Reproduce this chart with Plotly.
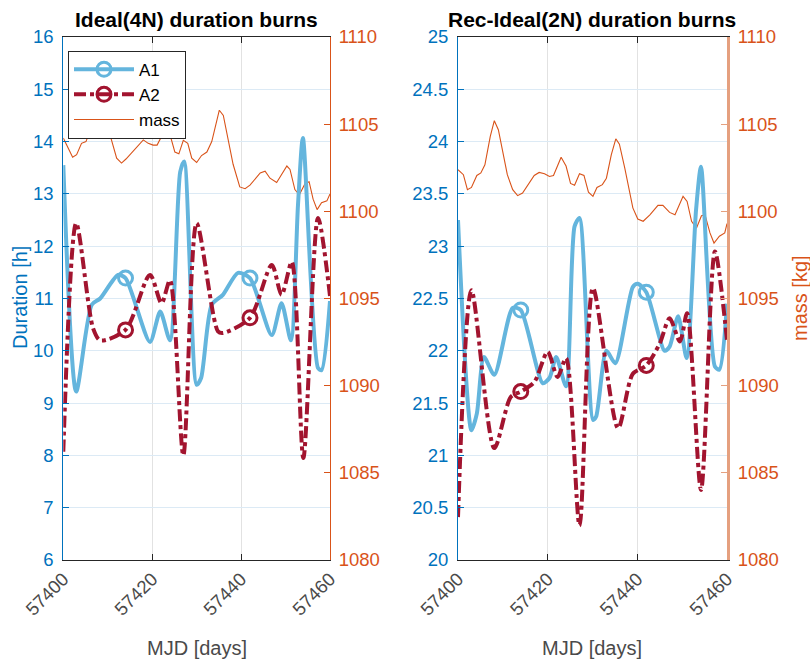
import plotly.graph_objects as go

# ---------------- data ----------------
# Left panel: Ideal(4N)
a1_left_mjd = [57400.0, 57402.9, 57406.4, 57408.3, 57412.3, 57414.0, 57419.5, 57421.8, 57424.0, 57426.3,
               57427.2, 57430.0, 57431.0, 57433.4, 57435.9, 57439.3, 57442.0, 57446.9, 57449.1, 57451.2,
               57452.8, 57453.9, 57457.3, 57458.1, 57460.0]
a1_left = [13.55, 9.22, 10.88, 11.0, 11.45, 11.39, 10.17, 10.75, 10.2, 13.42,
           13.62, 9.35, 9.48, 10.88, 11.07, 11.49, 11.39, 10.3, 10.91, 10.2,
           12.79, 14.07, 9.67, 9.63, 10.95]
a1_left_marks = [57414.0, 57442.0]

a2_left_mjd = [57400.0, 57402.9, 57406.7, 57408.3, 57414.0, 57419.5, 57422.1, 57424.0, 57427.0, 57430.0,
               57434.8, 57435.9, 57442.0, 57446.9, 57449.1, 57451.4, 57454.0, 57457.3, 57460.0]
a2_left = [8.07, 12.44, 10.43, 10.2, 10.4, 11.45, 10.91, 11.35, 8.0, 12.44,
           10.37, 10.34, 10.63, 11.64, 11.07, 11.7, 7.95, 12.54, 11.05]
a2_left_marks = [57414.0, 57442.0]

mass_left_mjd = [57400.0, 57402.1, 57403.0, 57404.1, 57405.1, 57406.0, 57408.0, 57410.1, 57410.5, 57412.0,
                 57413.1, 57414.1, 57418.0, 57419.1, 57420.2, 57421.1, 57422.9, 57424.0, 57425.1, 57426.0,
                 57427.0, 57428.0, 57428.9, 57430.0, 57431.1, 57432.3, 57433.4, 57435.1, 57436.0, 57437.1,
                 57438.2, 57439.7, 57440.9, 57442.0, 57444.3, 57445.4, 57446.5, 57448.0, 57449.1, 57450.3,
                 57451.0, 57452.1, 57453.1, 57454.4, 57455.3, 57456.2, 57457.1, 57458.1, 57459.3, 57460.0]
mass_left = [1104.2, 1103.1, 1103.25, 1103.9, 1104.0, 1104.6, 1105.3, 1104.8, 1104.4, 1103.05,
             1102.77, 1103.0, 1104.1, 1103.9, 1103.8, 1103.8, 1104.7, 1104.4, 1103.4, 1103.3,
             1104.07, 1103.9, 1103.05, 1102.8, 1103.2, 1103.4, 1104.0, 1105.8, 1105.5, 1104.2,
             1102.7, 1101.4, 1101.3, 1101.5, 1102.2, 1102.3, 1101.9, 1101.65, 1102.1, 1102.6,
             1102.4, 1101.25, 1100.95, 1101.6, 1101.7, 1100.7, 1100.1, 1100.5, 1100.6, 1101.0]

# Right panel: Rec-Ideal(2N)
a1_right_mjd = [57400.0, 57403.0, 57404.2, 57405.8, 57408.1, 57412.2, 57414.0, 57418.9, 57420.4, 57421.9,
                57424.1, 57426.0, 57427.1, 57430.1, 57430.8, 57433.1, 57435.1, 57439.0, 57440.1, 57442.0,
                57446.1, 57447.2, 57449.1, 57451.0, 57453.1, 57454.2, 57457.3, 57458.3, 57460.0]
a1_right = [23.25, 21.24, 21.4, 21.94, 21.77, 22.41, 22.39, 21.69, 21.74, 21.94,
            21.66, 23.19, 23.27, 21.34, 21.37, 22.0, 21.88, 22.61, 22.64, 22.56,
            22.0, 22.04, 22.33, 21.93, 23.35, 23.76, 21.85, 21.82, 22.45]
a1_right_marks = [57414.0, 57442.0]

a2_right_mjd = [57400.0, 57403.0, 57408.1, 57411.8, 57414.0, 57417.0, 57420.0, 57422.2, 57424.1, 57427.1,
                57430.1, 57435.7, 57439.0, 57442.0, 57445.0, 57447.2, 57449.5, 57451.1, 57454.2, 57457.3,
                57460.0]
a2_right = [20.41, 22.58, 21.07, 21.56, 21.61, 21.7, 21.99, 21.75, 21.93, 20.33,
            22.6, 21.26, 21.78, 21.86, 22.07, 22.31, 22.09, 22.36, 20.67, 22.95,
            22.1]
a2_right_marks = [57414.0, 57442.0]

mass_right_mjd = [57400.0, 57401.2, 57402.1, 57403.0, 57404.2, 57405.1, 57406.0, 57407.2, 57408.1, 57409.0,
                  57411.0, 57412.2, 57413.3, 57414.4, 57417.0, 57418.1, 57419.3, 57420.4, 57421.3, 57423.0,
                  57424.1, 57425.1, 57426.0, 57427.1, 57428.1, 57429.1, 57430.1, 57431.0, 57432.2, 57433.1,
                  57434.2, 57435.2, 57436.0, 57437.2, 57439.0, 57440.1, 57441.3, 57442.8, 57444.6, 57445.7,
                  57447.2, 57448.4, 57450.2, 57451.1, 57452.1, 57453.2, 57454.3, 57455.1, 57456.2, 57457.1,
                  57458.3, 57459.5, 57460.0]
mass_right = [1102.39, 1102.1, 1101.24, 1101.37, 1102.06, 1102.2, 1102.67, 1104.3, 1105.2, 1104.68,
              1102.1, 1101.24, 1100.9, 1101.05, 1102.06, 1102.23, 1102.16, 1102.0, 1102.06, 1103.1,
              1102.6, 1101.6, 1101.5, 1102.16, 1102.06, 1101.1, 1100.86, 1101.37, 1101.53, 1101.9,
              1103.25, 1104.16, 1103.85, 1102.48, 1100.2, 1099.56, 1099.43, 1099.8, 1100.34, 1100.34,
              1099.94, 1099.8, 1100.86, 1100.57, 1099.43, 1099.04, 1099.75, 1099.8, 1098.76, 1098.18,
              1098.57, 1098.76, 1099.3]

x_ticks = [57400, 57420, 57440, 57460]
titles = ["Ideal(4N) duration burns", "Rec-Ideal(2N) duration burns"]

# ---------------- style ----------------
BLUE_AX = "#0072BD"
ORANGE = "#D95319"
A1C = "#64B5DD"
A2C = "#A2142F"
DARK = "#262626"
FONT = "Liberation Sans, Arial, Helvetica, sans-serif"
XGRID = "#E2E2E2"
YGRID = "#DCEAF5"

W, H = 810, 660
def px(x):
    return x / W
def py(y):
    return 1 - y / H

XD_L = [px(63.3), px(330)]
XD_R = [px(458), px(727)]
YD = [py(560), py(37)]


def mark_idx(xs, marks):
    return [i for i, x in enumerate(xs) if x in marks]


fig = go.Figure()

panels = [
    dict(xa="x", ym="y", yd="y2", m_x=mass_left_mjd, m_y=mass_left,
         a1x=a1_left_mjd, a1y=a1_left, a1m=a1_left_marks,
         a2x=a2_left_mjd, a2y=a2_left, a2m=a2_left_marks, legend=True),
    dict(xa="x2", ym="y3", yd="y4", m_x=mass_right_mjd, m_y=mass_right,
         a1x=a1_right_mjd, a1y=a1_right, a1m=a1_right_marks,
         a2x=a2_right_mjd, a2y=a2_right, a2m=a2_right_marks, legend=False),
]

for p in panels:
    fig.add_trace(go.Scatter(
        x=p["m_x"], y=p["m_y"], xaxis=p["xa"], yaxis=p["ym"], mode="lines",
        line=dict(color=ORANGE, width=1.1), name="mass", legendrank=3,
        showlegend=p["legend"]))
    fig.add_trace(go.Scatter(
        x=p["a1x"], y=p["a1y"], xaxis=p["xa"], yaxis=p["yd"], mode="lines+markers",
        line=dict(color=A1C, width=4, shape="spline", smoothing=0.7),
        marker=dict(symbol="circle-open", size=14, color=A1C, opacity=1,
                    line=dict(width=3, color=A1C)),
        selectedpoints=mark_idx(p["a1x"], p["a1m"]),
        selected=dict(marker=dict(opacity=1)),
        unselected=dict(marker=dict(opacity=0)),
        name="A1", legendrank=1, showlegend=p["legend"]))
    fig.add_trace(go.Scatter(
        x=p["a2x"], y=p["a2y"], xaxis=p["xa"], yaxis=p["yd"], mode="lines+markers",
        line=dict(color=A2C, width=4, shape="spline", smoothing=0.8, dash="12px,4px,4px,4px"),
        marker=dict(symbol="circle-open", size=14, color=A2C, opacity=1,
                    line=dict(width=3, color=A2C)),
        selectedpoints=mark_idx(p["a2x"], p["a2m"]),
        selected=dict(marker=dict(opacity=1)),
        unselected=dict(marker=dict(opacity=0)),
        name="A2", legendrank=2, showlegend=p["legend"]))

TICKF = dict(family=FONT, size=18.5)

def xaxis(domain, anchor):
    return dict(domain=domain, anchor=anchor, range=[57400, 57460], tickvals=x_ticks,
                tickformat="d", tickangle=-45, ticks="inside", ticklen=6, tickwidth=1,
                tickcolor=DARK, showline=True, linecolor=DARK, linewidth=1, mirror="ticks",
                showgrid=True, gridcolor=XGRID, gridwidth=1, zeroline=False,
                tickfont=dict(TICKF, color="#4A4A4A"), automargin=False)

def mass_axis(anchor, lcolor, lwidth):
    return dict(domain=YD, anchor=anchor, side="right", range=[1080, 1110], dtick=5,
                tick0=1080, ticks="inside", ticklen=6, tickcolor=lcolor, showline=True,
                linecolor=lcolor, linewidth=lwidth, showgrid=False, zeroline=False,
                tickfont=dict(TICKF, color=ORANGE), ticklabelstandoff=4, automargin=False)

def dur_axis(overlay, anchor, rng, dtick):
    return dict(domain=YD, anchor=anchor, overlaying=overlay, side="left", range=rng,
                dtick=dtick, tick0=rng[0], ticks="inside", ticklen=6, tickcolor=BLUE_AX,
                showline=True, linecolor=BLUE_AX, linewidth=1, showgrid=True,
                gridcolor=YGRID, gridwidth=1, zeroline=False,
                tickfont=dict(TICKF, color=BLUE_AX), ticklabelstandoff=5, automargin=False)

annotations = []
for t, d in zip(titles, [XD_L, XD_R]):
    cx = (d[0] + d[1]) / 2
    annotations.append(dict(text="<b>" + t + "</b>", x=cx, y=py(19), xref="paper", yref="paper",
                            xanchor="center", yanchor="middle", showarrow=False,
                            font=dict(family=FONT, size=21, color="#000000")))
    annotations.append(dict(text="MJD [days]", x=cx, y=py(648), xref="paper", yref="paper",
                            xanchor="center", yanchor="middle", showarrow=False,
                            font=dict(family=FONT, size=20, color="#4A4A4A")))
annotations.append(dict(text="Duration [h]", x=px(20), y=py(298), xref="paper", yref="paper",
                        xanchor="center", yanchor="middle", textangle=-90, showarrow=False,
                        font=dict(family=FONT, size=20, color=BLUE_AX)))
annotations.append(dict(text="mass [kg]", x=px(800), y=py(298), xref="paper", yref="paper",
                        xanchor="center", yanchor="middle", textangle=-90, showarrow=False,
                        font=dict(family=FONT, size=20, color=ORANGE)))

fig.update_layout(
    width=W, height=H, margin=dict(l=0, r=0, t=0, b=0),
    paper_bgcolor="white", plot_bgcolor="white",
    font=dict(family=FONT, color=DARK),
    xaxis=xaxis(XD_L, "y"),
    yaxis=mass_axis("x", ORANGE, 1),
    yaxis2=dur_axis("y", "x", [6, 16], 1),
    xaxis2=xaxis(XD_R, "y3"),
    yaxis3=mass_axis("x2", "#E5A07F", 3),
    yaxis4=dur_axis("y3", "x2", [20, 25], 0.5),
    legend=dict(x=px(68), y=py(50.7), xanchor="left", yanchor="top",
                bgcolor="white", bordercolor=DARK, borderwidth=1,
                font=dict(family=FONT, size=17, color="#000000"),
                itemwidth=60, tracegroupgap=0),
    annotations=annotations,
    showlegend=True,
    dragmode=False,
)

fig.write_html("out.html")
